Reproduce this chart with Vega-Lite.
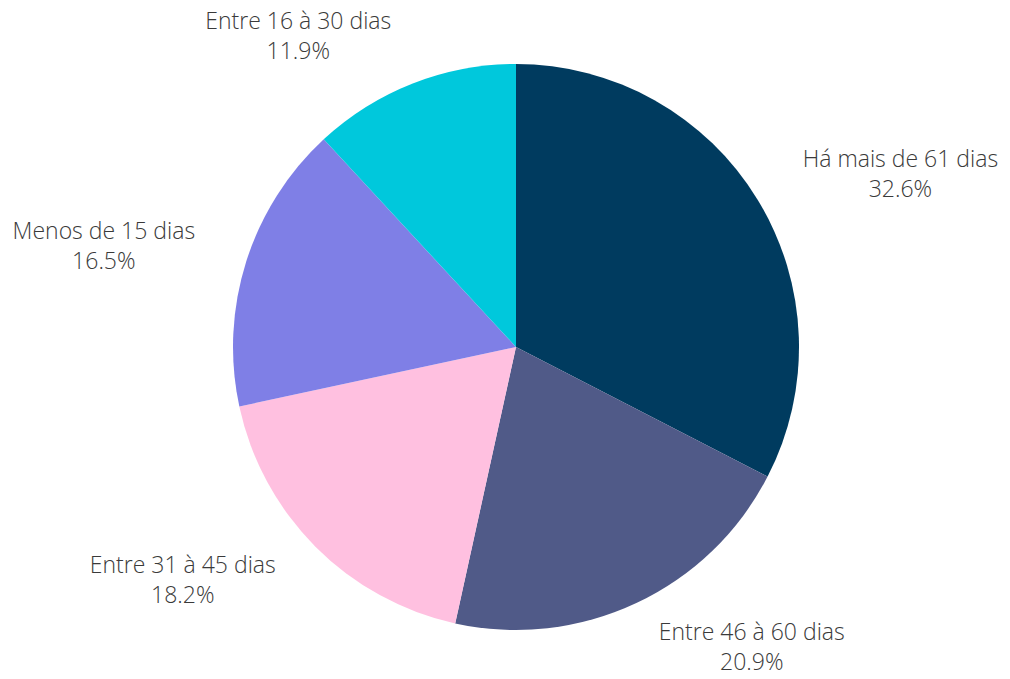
{
  "$schema": "https://vega.github.io/schema/vega-lite/v6.json",
  "width": 988,
  "height": 664,
  "autosize": {"type": "none"},
  "padding": {"left": 22, "top": 15, "right": 0, "bottom": 0},
  "background": "white",
  "config": {"view": {"stroke": null}, "text": {"font": "Open Sans", "fontSize": 23, "fontWeight": 300, "lineHeight": 30, "color": "#3a3a3a", "align": "center", "baseline": "alphabetic"}},
  "data": {
    "values": [
      {"i": 1, "category": "Há mais de 61 dias", "pct": 32.6},
      {"i": 2, "category": "Entre 46 à 60 dias", "pct": 20.9},
      {"i": 3, "category": "Entre 31 à 45 dias", "pct": 18.2},
      {"i": 4, "category": "Menos de 15 dias", "pct": 16.5},
      {"i": 5, "category": "Entre 16 à 30 dias", "pct": 11.9}
    ]
  },
  "transform": [
    {"stack": "pct", "groupby": [], "sort": [{"field": "i", "order": "ascending"}], "as": ["t0", "t1"]},
    {"calculate": "(datum.t0 + datum.t1) / 2", "as": "tmid"},
    {"calculate": "[datum.category, format(datum.pct, '.1f') + '%']", "as": "label"}
  ],
  "layer": [
    {
      "mark": {"type": "arc", "radius": 283},
      "encoding": {
        "theta": {"field": "t0", "type": "quantitative", "scale": {"domain": [0, 100.1]}},
        "theta2": {"field": "t1"},
        "color": {
          "field": "category",
          "type": "nominal",
          "legend": null,
          "scale": {
            "domain": ["Há mais de 61 dias", "Entre 46 à 60 dias", "Entre 31 à 45 dias", "Menos de 15 dias", "Entre 16 à 30 dias"],
            "range": ["#003B5F", "#505A88", "#FFC0E0", "#7F7FE6", "#00C8DC"]
          }
        }
      }
    },
    {
      "transform": [{"filter": "datum.i == 1"}],
      "mark": {"type": "text", "radius": 298, "dx": 130, "dy": -25},
      "encoding": {"theta": {"field": "tmid", "type": "quantitative", "scale": {"domain": [0, 100.1]}}, "text": {"field": "label"}}
    },
    {
      "transform": [{"filter": "datum.i == 2"}],
      "mark": {"type": "text", "radius": 298, "dx": 109, "dy": 23},
      "encoding": {"theta": {"field": "tmid", "type": "quantitative", "scale": {"domain": [0, 100.1]}}, "text": {"field": "label"}}
    },
    {
      "transform": [{"filter": "datum.i == 3"}],
      "mark": {"type": "text", "radius": 298, "dx": -122, "dy": 16},
      "encoding": {"theta": {"field": "tmid", "type": "quantitative", "scale": {"domain": [0, 100.1]}}, "text": {"field": "label"}}
    },
    {
      "transform": [{"filter": "datum.i == 4"}],
      "mark": {"type": "text", "radius": 298, "dx": -128, "dy": -18},
      "encoding": {"theta": {"field": "tmid", "type": "quantitative", "scale": {"domain": [0, 100.1]}}, "text": {"field": "label"}}
    },
    {
      "transform": [{"filter": "datum.i == 5"}],
      "mark": {"type": "text", "radius": 298, "dx": -109, "dy": -41},
      "encoding": {"theta": {"field": "tmid", "type": "quantitative", "scale": {"domain": [0, 100.1]}}, "text": {"field": "label"}}
    }
  ]
}
